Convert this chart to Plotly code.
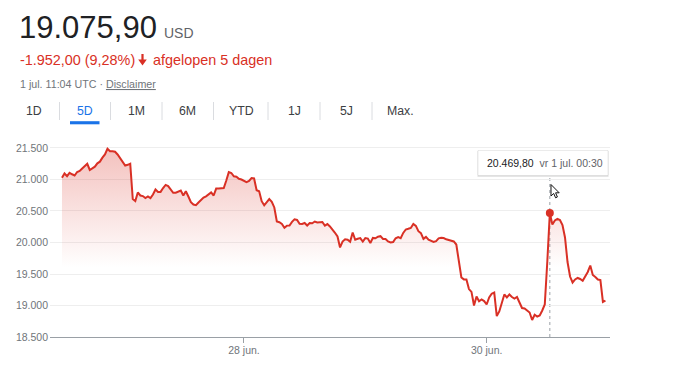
import plotly.graph_objects as go
import pandas as pd

# ---------------- data (USD, 30-minute steps, UTC) ----------------
start_time = "2022-06-27 00:00"
prices_27jun = [21027.9, 21095, 21053, 21106, 21083, 21063, 21119, 21135, 21175, 21219,
                21249, 21151, 21178, 21203, 21257, 21283, 21346, 21397, 21487, 21448,
                21449, 21440, 21397, 21343, 21270, 21222, 21233, 21249, 20690, 20659,
                20794, 20746, 20737, 20706, 20730, 20705, 20762, 20841, 20803, 20803,
                20865, 20913, 20894, 20846, 20789, 20789, 20814, 20825]
prices_28jun = [20746, 20814, 20730, 20641, 20602, 20592, 20635, 20681, 20713, 20732,
                20767, 20794, 20746, 20856, 20857, 20857, 20865, 20984, 21117, 21103,
                21051, 21044, 21011, 21000, 20981, 20959, 20976, 21022, 21016, 20830,
                20813, 20656, 20590, 20635, 20690, 20646, 20556, 20333, 20321, 20295,
                20235, 20268, 20270, 20327, 20367, 20357, 20297, 20294]
prices_29jun = [20310, 20270, 20310, 20306, 20333, 20317, 20322, 20325, 20267, 20292,
                20254, 20210, 20154, 20095, 19921, 20015, 20051, 20043, 20011, 20159,
                20044, 20060, 20070, 20016, 20070, 20062, 19992, 20073, 20067, 20092,
                20100, 20056, 20056, 20016, 20000, 20006, 20067, 20087, 20068, 20152,
                20206, 20217, 20230, 20295, 20263, 20179, 20149, 20057]
prices_30jun = [20089, 20046, 20022, 20008, 20022, 20065, 20075, 20071, 20051, 20041,
                20029, 20017, 19968, 19673, 19444, 19414, 19413, 19260, 19216, 19000,
                19143, 19068, 19095, 19070, 19016, 19127, 19187, 19206, 18833, 18905,
                19032, 19175, 19127, 19175, 19135, 19111, 19135, 19048, 18960, 18952,
                18921, 18889, 18770, 18853, 18825, 18841, 18921, 19016]
prices_01jul = [19698, 20469.8, 20286, 20349, 20376, 20357, 20278, 20079, 19690, 19460,
                19365, 19413, 19437, 19421, 19392, 19468, 19532, 19635, 19484, 19452,
                19413, 19403, 19056, 19075.9]

hover_time = "2022-07-01 00:30"
hover_price = 20469.8

y_ticks = [18500, 19000, 19500, 20000, 20500, 21000, 21500]
x_tick_vals = ["2022-06-28 12:00", "2022-06-30 12:00"]
x_tick_text = ["28 jun.", "30 jun."]
tab_labels = ["1D", "5D", "1M", "6M", "YTD", "1J", "5J", "Max."]
selected_tab = "5D"

prices = prices_27jun + prices_28jun + prices_29jun + prices_30jun + prices_01jul
times = pd.date_range(start_time, periods=len(prices), freq="30min")

# ---------------- layout geometry ----------------
W, H = 690, 365
L, R, T, B = 50, 80, 142, 28
PW, PH = W - L - R, H - T - B


def fx(px):
    return (px - L) / PW


def fy(py):
    return (H - B - py) / PH


RED = "#d93025"
GREY = "#70757a"
FONT = "Arial, Liberation Sans, sans-serif"

fig = go.Figure()
fig.add_trace(go.Scatter(
    x=times, y=prices, mode="lines",
    line=dict(color=RED, width=2),
    fill="tozeroy",
    fillgradient=dict(type="vertical",
                      colorscale=[[0, "rgba(217,48,37,0)"], [1, "rgba(217,48,37,0.30)"]],
                      start=19600, stop=21500),
    hoverinfo="skip", showlegend=False,
))
fig.add_trace(go.Scatter(
    x=[pd.Timestamp(hover_time)], y=[hover_price], mode="markers",
    marker=dict(color=RED, size=8), hoverinfo="skip", showlegend=False,
))

x0 = times[0] - pd.Timedelta(hours=2.37)
x1 = times[0] + pd.Timedelta(hours=108.4)

shapes = []
annotations = []

# hover crosshair
shapes.append(dict(type="line", xref="x", yref="paper",
                   x0=pd.Timestamp(hover_time), x1=pd.Timestamp(hover_time),
                   y0=0, y1=fy(175), line=dict(color="#9aa0a6", width=1, dash="dot"),
                   layer="below"))
# tooltip box + shadow
shapes.append(dict(type="rect", xref="paper", yref="paper",
                   x0=fx(477.5), x1=fx(608.5), y0=fy(177), y1=fy(151),
                   line=dict(width=0), fillcolor="rgba(0,0,0,0.10)"))
shapes.append(dict(type="rect", xref="paper", yref="paper",
                   x0=fx(478), x1=fx(608), y0=fy(175.5), y1=fy(150.5),
                   line=dict(width=1, color="rgba(0,0,0,0.08)"), fillcolor="white"))
annotations.append(dict(xref="paper", yref="paper", x=fx(485), y=fy(163),
                        xanchor="left", yanchor="middle", showarrow=False,
                        text="<span style='color:#202124'>%s</span>&nbsp;&nbsp;<span style='color:#5f6368'>vr 1 jul. 00:30</span>"
                             % f"{hover_price:,.2f}".replace(",", "X").replace(".", ",").replace("X", "."),
                        font=dict(family=FONT, size=10.5)))

# mouse cursor
cur = [(0, 0), (0, 11.5), (2.7, 9), (4.6, 13.3), (6.4, 12.5), (4.6, 8.3), (8.2, 8.3)]
tip = (551, 184.5)
path = "M " + " L ".join(f"{fx(tip[0] + a):.5f},{fy(tip[1] + b):.5f}" for a, b in cur) + " Z"
shapes.append(dict(type="path", xref="paper", yref="paper", path=path,
                   fillcolor="white", line=dict(color="#111111", width=1)))

# header texts
annotations.append(dict(xref="paper", yref="paper", x=fx(17), y=fy(27.5),
                        xanchor="left", yanchor="middle", showarrow=False,
                        text="19.075,90", font=dict(family=FONT, size=31, color="#202124")))
annotations.append(dict(xref="paper", yref="paper", x=fx(161.5), y=fy(33.3),
                        xanchor="left", yanchor="middle", showarrow=False,
                        text="USD", font=dict(family=FONT, size=14, color="#5f6368")))
annotations.append(dict(xref="paper", yref="paper", x=fx(17.5), y=fy(59.6),
                        xanchor="left", yanchor="middle", showarrow=False,
                        text="-1.952,00 (9,28%)", font=dict(family=FONT, size=14.4, color=RED)))
annotations.append(dict(xref="paper", yref="paper", x=fx(150.5), y=fy(59.6),
                        xanchor="left", yanchor="middle", showarrow=False,
                        text="afgelopen 5 dagen", font=dict(family=FONT, size=14.4, color=RED)))
# down arrow
arrow = [(141.4, 54), (143.6, 54), (143.6, 59.5), (146.8, 59.5), (142.5, 65.5), (138.2, 59.5), (141.4, 59.5)]
shapes.append(dict(type="path", xref="paper", yref="paper",
                   path="M " + " L ".join(f"{fx(a):.5f},{fy(b):.5f}" for a, b in arrow) + " Z",
                   fillcolor=RED, line=dict(width=0)))
annotations.append(dict(xref="paper", yref="paper", x=fx(17.5), y=fy(83.8),
                        xanchor="left", yanchor="middle", showarrow=False,
                        text="1 jul. 11:04 UTC · <span style='text-decoration:underline'>Disclaimer</span>",
                        font=dict(family=FONT, size=10.7, color=GREY)))

# tabs
tab_centers = [33.5, 85, 136.5, 187.5, 241, 294.5, 346, 400]
for lab, cx in zip(tab_labels, tab_centers):
    annotations.append(dict(xref="paper", yref="paper", x=fx(cx), y=fy(110.8),
                            xanchor="center", yanchor="middle", showarrow=False, text=lab,
                            font=dict(family=FONT, size=12.3,
                                      color="#1a73e8" if lab == selected_tab else "#3c4043")))
for sx in [59.5, 110.5, 162, 213.5, 268, 320, 372]:
    shapes.append(dict(type="line", xref="paper", yref="paper",
                       x0=fx(sx), x1=fx(sx), y0=fy(102), y1=fy(120),
                       line=dict(color="#dadce0", width=1)))
shapes.append(dict(type="rect", xref="paper", yref="paper",
                   x0=fx(70), x1=fx(99.5), y0=fy(124.3), y1=fy(121.2),
                   fillcolor="#1a73e8", line=dict(width=0)))

fig.update_layout(
    width=W, height=H, autosize=False,
    margin=dict(l=L, r=R, t=T, b=B, pad=0, autoexpand=False),
    paper_bgcolor="white", plot_bgcolor="white",
    separators=",.",
    hovermode=False,
    font=dict(family=FONT),
    shapes=shapes, annotations=annotations,
    xaxis=dict(type="date", range=[x0, x1], showgrid=False, zeroline=False,
               showline=True, linecolor="#9aa0a6", linewidth=1,
               ticks="outside", ticklen=5, tickcolor="#9aa0a6", tickwidth=1,
               tickvals=x_tick_vals, ticktext=x_tick_text, automargin=False,
               ticklabelstandoff=-2,
               tickfont=dict(family=FONT, size=10.5, color=GREY), fixedrange=True),
    yaxis=dict(range=[18500, 21595], tickvals=y_ticks, tickformat=",.0f",
               showgrid=True, gridcolor="#eeeeee", gridwidth=1, zeroline=False,
               showline=False, ticks="", ticklabelstandoff=1, automargin=False,
               tickfont=dict(family=FONT, size=10.5, color=GREY), fixedrange=True),
)

fig.write_html("out.html", config={"displayModeBar": False},
               post_script="document.body.style.margin='0';document.body.style.overflow='hidden';")
